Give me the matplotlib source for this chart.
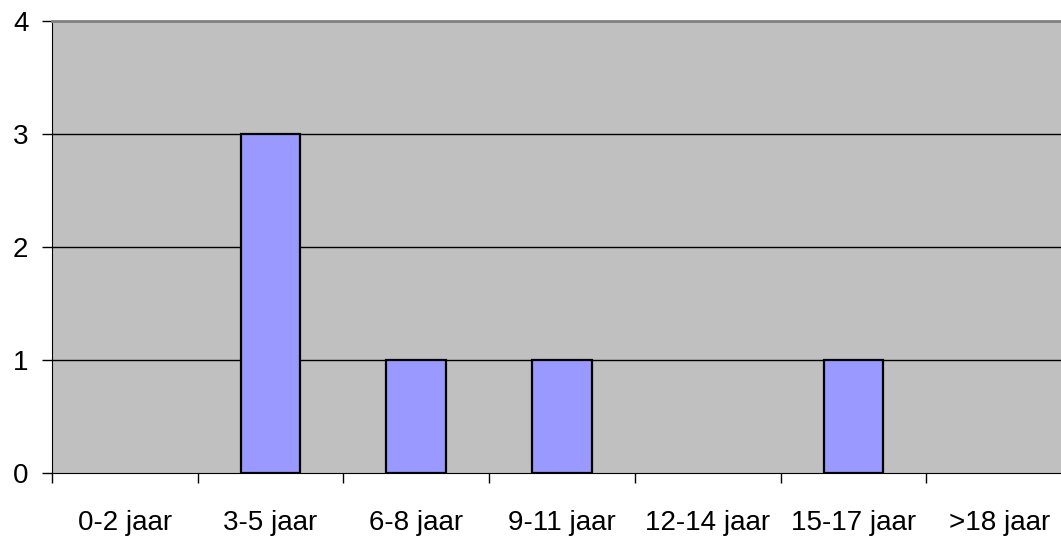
import matplotlib
matplotlib.use("Agg")
import matplotlib.pyplot as plt
import numpy as np

plt.rcParams['font.family'] = ['Liberation Sans', 'DejaVu Sans']

categories = ['0-2 jaar', '3-5 jaar', '6-8 jaar', '9-11 jaar', '12-14 jaar', '15-17 jaar', '>18 jaar']
counts = [0, 3, 1, 1, 0, 1, 0]

fig = plt.figure(figsize=(10.61, 5.36), dpi=100)
# plot area runs a bit past the right edge of the picture
ax = fig.add_axes([52 / 1061, 63 / 536, 1020 / 1061, 452 / 536])
ax.set_facecolor('#C0C0C0')

x = np.arange(len(categories))
vals = np.array(counts, dtype=float)
mask = vals > 0  # empty categories draw nothing
ax.bar(x[mask], vals[mask], width=0.41, color='#9999FF', edgecolor='black', linewidth=1.6, zorder=3)

ax.set_xlim(-0.5, len(categories) - 0.5)
ax.set_ylim(0, 4)
ax.set_yticks([0, 1, 2, 3, 4])
for y in [1, 2, 3]:
    ax.axhline(y, color='black', linewidth=1, zorder=1)

# category labels centred, tick marks on the boundaries
ax.set_xticks(x)
ax.set_xticklabels(categories)
ax.set_xticks(np.arange(len(categories)) - 0.5, minor=True)
ax.tick_params(axis='x', which='major', length=0, pad=27, labelsize=20)
ax.tick_params(axis='x', which='minor', length=7, width=1, direction='out')
ax.tick_params(axis='y', length=7, width=1, direction='out', pad=10, labelsize=20)

ax.spines['left'].set_color('black')
ax.spines['bottom'].set_color('black')
ax.spines['top'].set_color('#808080')
ax.spines['top'].set_linewidth(2)
ax.spines['right'].set_visible(False)

fig.savefig('out.png', dpi=100)
